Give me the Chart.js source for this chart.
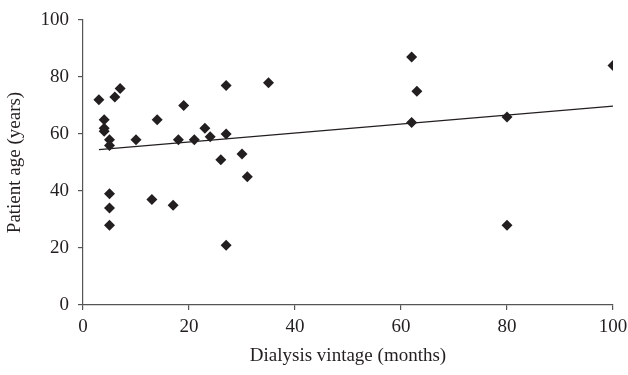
<!DOCTYPE html>
<html lang="en">
<head>
  <meta charset="UTF-8">
  <title>Patient age vs dialysis vintage</title>
  <script src="https://cdn.jsdelivr.net/npm/chart.js@4.4.0/dist/chart.umd.min.js"></script>
  <style>
    html, body { margin: 0; padding: 0; background: #fff; }
    #wrap { width: 628px; height: 375px; }
  </style>
</head>
<body>
  <div id="wrap"><canvas id="myChart" width="628" height="375"></canvas></div>
  <script>
    // dialysis vintage (months) and patient age (years)
    const vintage = [3, 4, 4, 4, 5, 5, 5, 5, 5, 6, 7, 10, 13, 14, 17, 18, 19, 21, 23, 24, 26, 27, 27, 27, 30, 31, 35, 62, 62, 63, 80, 80, 100];
    const age     = [72, 65, 62, 61, 58, 56, 39, 34, 28, 73, 76, 58, 37, 65, 35, 58, 70, 58, 62, 59, 51, 77, 60, 21, 53, 45, 78, 87, 64, 75, 66, 28, 84];

    // trend line end points
    const trendX = [3, 100];
    const trendY = [54.5, 69.8];

    const xTicks = [0, 20, 40, 60, 80, 100];
    const yTicks = [0, 20, 40, 60, 80, 100];

    const ink = '#231f20';
    const serif = "'Liberation Serif', 'DejaVu Serif', serif";

    const points = vintage.map((v, i) => ({ x: v, y: age[i] }));
    const trend = trendX.map((v, i) => ({ x: v, y: trendY[i] }));

    const ctx = document.getElementById('myChart').getContext('2d');
    const myChart = new Chart(ctx, {
      type: 'scatter',
      data: {
        datasets: [{
          label: 'Patients',
          data: points,
          pointStyle: 'rectRot',
          pointRadius: 5.5,
          backgroundColor: ink,
          borderColor: ink,
          borderWidth: 0
        }, {
          type: 'line',
          label: 'Trend',
          data: trend,
          borderColor: ink,
          borderWidth: 1.3,
          pointRadius: 0,
          fill: false
        }]
      },
      options: {
        responsive: false,
        animation: false,
        layout: { padding: { top: 20, right: 15, left: 0, bottom: 0 } },
        plugins: {
          legend: { display: false },
          tooltip: { enabled: false }
        },
        scales: {
          x: {
            type: 'linear',
            min: 0, max: 100,
            afterBuildTicks: axis => { axis.ticks = xTicks.map(v => ({ value: v })); },
            afterFit: axis => { axis.height = 70; axis.paddingRight = 0; axis.paddingLeft = 0; },
            grid: { drawOnChartArea: false, tickLength: 5, color: '#555', lineWidth: 1.2 },
            border: { color: '#555', width: 1.2 },
            ticks: { color: ink, font: { family: serif, size: 19 }, padding: 6 },
            title: { display: true, text: 'Dialysis vintage (months)', color: ink, font: { family: serif, size: 19 }, padding: { top: 4, bottom: 8 } }
          },
          y: {
            type: 'linear',
            min: 0, max: 100,
            afterBuildTicks: axis => { axis.ticks = yTicks.map(v => ({ value: v })); },
            afterFit: axis => { axis.width = 83; axis.paddingTop = 0; axis.paddingBottom = 0; },
            grid: { drawOnChartArea: false, tickLength: 5, color: '#555', lineWidth: 1.2 },
            border: { color: '#555', width: 1.2 },
            ticks: { color: ink, font: { family: serif, size: 19 }, padding: 9 },
            title: { display: true, text: 'Patient age (years)', color: ink, font: { family: serif, size: 19 }, padding: { top: 4, bottom: 4 } }
          }
        }
      }
    });
  </script>
</body>
</html>
